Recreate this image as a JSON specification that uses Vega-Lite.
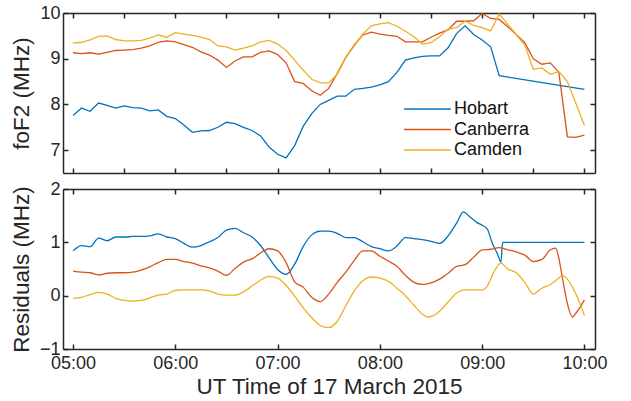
{
 "$schema": "https://vega.github.io/schema/vega-lite/v6.json",
 "background": "white",
 "padding": {"left": 10, "top": 4, "right": 5, "bottom": 2},
 "spacing": 6,
 "config": {
  "view": {"stroke": null},
  "font": "Liberation Sans",
  "axis": {"domain": true, "domainColor": "#262626", "domainWidth": 1.5, "grid": false, "tickSize": -5, "tickColor": "#262626", "tickWidth": 1.5, "labelFont": "Liberation Sans", "labelFontSize": 18, "labelColor": "#262626", "titleFont": "Liberation Sans", "titleFontSize": 22.5, "titleFontWeight": "normal", "titleColor": "#262626"},
  "axisX": {"labelPadding": 10, "titlePadding": 3},
  "axisY": {"labelPadding": 8, "titlePadding": 6},
  "legend": {"labelFont": "Liberation Sans", "labelFontSize": 18, "labelColor": "#111111", "symbolType": "M-2.6,0H2.6", "symbolSize": 324, "symbolStrokeWidth": 1.5, "rowPadding": 1.5, "labelOffset": 16.6, "padding": 0}
 },
 "resolve": {"scale": {"color": "independent"}},
 "vconcat": [
  {
   "width": 532, "height": 160,
   "data": {"values": [
   {"time":"2015-03-17T05:00Z","station":"Hobart","foF2":7.76},{"time":"2015-03-17T05:05Z","station":"Hobart","foF2":7.92},{"time":"2015-03-17T05:10Z","station":"Hobart","foF2":7.85},{"time":"2015-03-17T05:15Z","station":"Hobart","foF2":8.03},{"time":"2015-03-17T05:20Z","station":"Hobart","foF2":7.98},{"time":"2015-03-17T05:25Z","station":"Hobart","foF2":7.92},{"time":"2015-03-17T05:30Z","station":"Hobart","foF2":7.97},{"time":"2015-03-17T05:35Z","station":"Hobart","foF2":7.93},{"time":"2015-03-17T05:40Z","station":"Hobart","foF2":7.92},{"time":"2015-03-17T05:45Z","station":"Hobart","foF2":7.86},{"time":"2015-03-17T05:50Z","station":"Hobart","foF2":7.88},{"time":"2015-03-17T05:55Z","station":"Hobart","foF2":7.74},
   {"time":"2015-03-17T06:00Z","station":"Hobart","foF2":7.69},{"time":"2015-03-17T06:05Z","station":"Hobart","foF2":7.55},{"time":"2015-03-17T06:10Z","station":"Hobart","foF2":7.39},{"time":"2015-03-17T06:15Z","station":"Hobart","foF2":7.42},{"time":"2015-03-17T06:20Z","station":"Hobart","foF2":7.43},{"time":"2015-03-17T06:25Z","station":"Hobart","foF2":7.50},{"time":"2015-03-17T06:30Z","station":"Hobart","foF2":7.61},{"time":"2015-03-17T06:35Z","station":"Hobart","foF2":7.58},{"time":"2015-03-17T06:40Z","station":"Hobart","foF2":7.50},{"time":"2015-03-17T06:45Z","station":"Hobart","foF2":7.43},{"time":"2015-03-17T06:50Z","station":"Hobart","foF2":7.31},{"time":"2015-03-17T06:55Z","station":"Hobart","foF2":7.07},
   {"time":"2015-03-17T07:00Z","station":"Hobart","foF2":6.91},{"time":"2015-03-17T07:05Z","station":"Hobart","foF2":6.83},{"time":"2015-03-17T07:10Z","station":"Hobart","foF2":7.10},{"time":"2015-03-17T07:15Z","station":"Hobart","foF2":7.52},{"time":"2015-03-17T07:20Z","station":"Hobart","foF2":7.80},{"time":"2015-03-17T07:25Z","station":"Hobart","foF2":8.00},{"time":"2015-03-17T07:30Z","station":"Hobart","foF2":8.09},{"time":"2015-03-17T07:35Z","station":"Hobart","foF2":8.18},{"time":"2015-03-17T07:40Z","station":"Hobart","foF2":8.18},{"time":"2015-03-17T07:45Z","station":"Hobart","foF2":8.33},{"time":"2015-03-17T07:50Z","station":"Hobart","foF2":8.35},{"time":"2015-03-17T07:55Z","station":"Hobart","foF2":8.38},
   {"time":"2015-03-17T08:00Z","station":"Hobart","foF2":8.43},{"time":"2015-03-17T08:05Z","station":"Hobart","foF2":8.50},{"time":"2015-03-17T08:10Z","station":"Hobart","foF2":8.70},{"time":"2015-03-17T08:15Z","station":"Hobart","foF2":8.97},{"time":"2015-03-17T08:20Z","station":"Hobart","foF2":9.02},{"time":"2015-03-17T08:25Z","station":"Hobart","foF2":9.05},{"time":"2015-03-17T08:30Z","station":"Hobart","foF2":9.06},{"time":"2015-03-17T08:35Z","station":"Hobart","foF2":9.06},{"time":"2015-03-17T08:40Z","station":"Hobart","foF2":9.24},{"time":"2015-03-17T08:45Z","station":"Hobart","foF2":9.55},{"time":"2015-03-17T08:50Z","station":"Hobart","foF2":9.72},{"time":"2015-03-17T08:55Z","station":"Hobart","foF2":9.53},
   {"time":"2015-03-17T09:00Z","station":"Hobart","foF2":9.41},{"time":"2015-03-17T09:05Z","station":"Hobart","foF2":9.26},{"time":"2015-03-17T09:10Z","station":"Hobart","foF2":8.63},{"time":"2015-03-17T10:00Z","station":"Hobart","foF2":8.33},
   {"time":"2015-03-17T05:00Z","station":"Canberra","foF2":9.13},{"time":"2015-03-17T05:05Z","station":"Canberra","foF2":9.11},{"time":"2015-03-17T05:10Z","station":"Canberra","foF2":9.13},{"time":"2015-03-17T05:15Z","station":"Canberra","foF2":9.10},{"time":"2015-03-17T05:20Z","station":"Canberra","foF2":9.14},{"time":"2015-03-17T05:25Z","station":"Canberra","foF2":9.18},{"time":"2015-03-17T05:30Z","station":"Canberra","foF2":9.19},{"time":"2015-03-17T05:35Z","station":"Canberra","foF2":9.20},{"time":"2015-03-17T05:40Z","station":"Canberra","foF2":9.23},{"time":"2015-03-17T05:45Z","station":"Canberra","foF2":9.28},{"time":"2015-03-17T05:50Z","station":"Canberra","foF2":9.36},{"time":"2015-03-17T05:55Z","station":"Canberra","foF2":9.39},
   {"time":"2015-03-17T06:00Z","station":"Canberra","foF2":9.37},{"time":"2015-03-17T06:05Z","station":"Canberra","foF2":9.31},{"time":"2015-03-17T06:10Z","station":"Canberra","foF2":9.25},{"time":"2015-03-17T06:15Z","station":"Canberra","foF2":9.15},{"time":"2015-03-17T06:20Z","station":"Canberra","foF2":9.08},{"time":"2015-03-17T06:25Z","station":"Canberra","foF2":8.97},{"time":"2015-03-17T06:30Z","station":"Canberra","foF2":8.81},{"time":"2015-03-17T06:35Z","station":"Canberra","foF2":8.95},{"time":"2015-03-17T06:40Z","station":"Canberra","foF2":9.04},{"time":"2015-03-17T06:45Z","station":"Canberra","foF2":9.04},{"time":"2015-03-17T06:50Z","station":"Canberra","foF2":9.14},{"time":"2015-03-17T06:55Z","station":"Canberra","foF2":9.17},
   {"time":"2015-03-17T07:00Z","station":"Canberra","foF2":9.09},{"time":"2015-03-17T07:05Z","station":"Canberra","foF2":8.91},{"time":"2015-03-17T07:10Z","station":"Canberra","foF2":8.50},{"time":"2015-03-17T07:15Z","station":"Canberra","foF2":8.46},{"time":"2015-03-17T07:20Z","station":"Canberra","foF2":8.30},{"time":"2015-03-17T07:25Z","station":"Canberra","foF2":8.20},{"time":"2015-03-17T07:30Z","station":"Canberra","foF2":8.35},{"time":"2015-03-17T07:35Z","station":"Canberra","foF2":8.68},{"time":"2015-03-17T07:40Z","station":"Canberra","foF2":9.03},{"time":"2015-03-17T07:45Z","station":"Canberra","foF2":9.30},{"time":"2015-03-17T07:50Z","station":"Canberra","foF2":9.52},{"time":"2015-03-17T07:55Z","station":"Canberra","foF2":9.58},
   {"time":"2015-03-17T08:00Z","station":"Canberra","foF2":9.54},{"time":"2015-03-17T08:05Z","station":"Canberra","foF2":9.51},{"time":"2015-03-17T08:10Z","station":"Canberra","foF2":9.49},{"time":"2015-03-17T08:15Z","station":"Canberra","foF2":9.37},{"time":"2015-03-17T08:20Z","station":"Canberra","foF2":9.37},{"time":"2015-03-17T08:25Z","station":"Canberra","foF2":9.37},{"time":"2015-03-17T08:30Z","station":"Canberra","foF2":9.47},{"time":"2015-03-17T08:35Z","station":"Canberra","foF2":9.56},{"time":"2015-03-17T08:40Z","station":"Canberra","foF2":9.63},{"time":"2015-03-17T08:45Z","station":"Canberra","foF2":9.82},{"time":"2015-03-17T08:50Z","station":"Canberra","foF2":9.82},{"time":"2015-03-17T08:55Z","station":"Canberra","foF2":9.83},
   {"time":"2015-03-17T09:00Z","station":"Canberra","foF2":9.99},{"time":"2015-03-17T09:05Z","station":"Canberra","foF2":9.88},{"time":"2015-03-17T09:10Z","station":"Canberra","foF2":9.86},{"time":"2015-03-17T09:15Z","station":"Canberra","foF2":9.70},{"time":"2015-03-17T09:20Z","station":"Canberra","foF2":9.53},{"time":"2015-03-17T09:25Z","station":"Canberra","foF2":9.35},{"time":"2015-03-17T09:30Z","station":"Canberra","foF2":9.00},{"time":"2015-03-17T09:35Z","station":"Canberra","foF2":8.88},{"time":"2015-03-17T09:40Z","station":"Canberra","foF2":8.91},{"time":"2015-03-17T09:45Z","station":"Canberra","foF2":8.70},{"time":"2015-03-17T09:50Z","station":"Canberra","foF2":7.29},{"time":"2015-03-17T09:55Z","station":"Canberra","foF2":7.28},{"time":"2015-03-17T10:00Z","station":"Canberra","foF2":7.33},
   {"time":"2015-03-17T05:00Z","station":"Camden","foF2":9.34},{"time":"2015-03-17T05:05Z","station":"Camden","foF2":9.36},{"time":"2015-03-17T05:10Z","station":"Camden","foF2":9.41},{"time":"2015-03-17T05:15Z","station":"Camden","foF2":9.49},{"time":"2015-03-17T05:20Z","station":"Camden","foF2":9.50},{"time":"2015-03-17T05:25Z","station":"Camden","foF2":9.42},{"time":"2015-03-17T05:30Z","station":"Camden","foF2":9.39},{"time":"2015-03-17T05:35Z","station":"Camden","foF2":9.39},{"time":"2015-03-17T05:40Z","station":"Camden","foF2":9.40},{"time":"2015-03-17T05:45Z","station":"Camden","foF2":9.45},{"time":"2015-03-17T05:50Z","station":"Camden","foF2":9.52},{"time":"2015-03-17T05:55Z","station":"Camden","foF2":9.47},
   {"time":"2015-03-17T06:00Z","station":"Camden","foF2":9.57},{"time":"2015-03-17T06:05Z","station":"Camden","foF2":9.54},{"time":"2015-03-17T06:10Z","station":"Camden","foF2":9.51},{"time":"2015-03-17T06:15Z","station":"Camden","foF2":9.47},{"time":"2015-03-17T06:20Z","station":"Camden","foF2":9.42},{"time":"2015-03-17T06:25Z","station":"Camden","foF2":9.28},{"time":"2015-03-17T06:30Z","station":"Camden","foF2":9.26},{"time":"2015-03-17T06:35Z","station":"Camden","foF2":9.19},{"time":"2015-03-17T06:40Z","station":"Camden","foF2":9.23},{"time":"2015-03-17T06:45Z","station":"Camden","foF2":9.28},{"time":"2015-03-17T06:50Z","station":"Camden","foF2":9.37},{"time":"2015-03-17T06:55Z","station":"Camden","foF2":9.40},
   {"time":"2015-03-17T07:00Z","station":"Camden","foF2":9.32},{"time":"2015-03-17T07:05Z","station":"Camden","foF2":9.18},{"time":"2015-03-17T07:10Z","station":"Camden","foF2":8.97},{"time":"2015-03-17T07:15Z","station":"Camden","foF2":8.75},{"time":"2015-03-17T07:20Z","station":"Camden","foF2":8.55},{"time":"2015-03-17T07:25Z","station":"Camden","foF2":8.47},{"time":"2015-03-17T07:30Z","station":"Camden","foF2":8.47},{"time":"2015-03-17T07:35Z","station":"Camden","foF2":8.66},{"time":"2015-03-17T07:40Z","station":"Camden","foF2":9.03},{"time":"2015-03-17T07:45Z","station":"Camden","foF2":9.28},{"time":"2015-03-17T07:50Z","station":"Camden","foF2":9.54},{"time":"2015-03-17T07:55Z","station":"Camden","foF2":9.72},
   {"time":"2015-03-17T08:00Z","station":"Camden","foF2":9.76},{"time":"2015-03-17T08:05Z","station":"Camden","foF2":9.79},{"time":"2015-03-17T08:10Z","station":"Camden","foF2":9.71},{"time":"2015-03-17T08:15Z","station":"Camden","foF2":9.60},{"time":"2015-03-17T08:20Z","station":"Camden","foF2":9.48},{"time":"2015-03-17T08:25Z","station":"Camden","foF2":9.32},{"time":"2015-03-17T08:30Z","station":"Camden","foF2":9.35},{"time":"2015-03-17T08:35Z","station":"Camden","foF2":9.48},{"time":"2015-03-17T08:40Z","station":"Camden","foF2":9.65},{"time":"2015-03-17T08:45Z","station":"Camden","foF2":9.68},{"time":"2015-03-17T08:50Z","station":"Camden","foF2":9.82},{"time":"2015-03-17T08:55Z","station":"Camden","foF2":9.73},
   {"time":"2015-03-17T09:00Z","station":"Camden","foF2":9.68},{"time":"2015-03-17T09:05Z","station":"Camden","foF2":9.61},{"time":"2015-03-17T09:10Z","station":"Camden","foF2":9.98},{"time":"2015-03-17T09:15Z","station":"Camden","foF2":9.75},{"time":"2015-03-17T09:20Z","station":"Camden","foF2":9.53},{"time":"2015-03-17T09:25Z","station":"Camden","foF2":9.30},{"time":"2015-03-17T09:30Z","station":"Camden","foF2":8.77},{"time":"2015-03-17T09:35Z","station":"Camden","foF2":8.80},{"time":"2015-03-17T09:40Z","station":"Camden","foF2":8.66},{"time":"2015-03-17T09:45Z","station":"Camden","foF2":8.72},{"time":"2015-03-17T09:50Z","station":"Camden","foF2":8.50},{"time":"2015-03-17T09:55Z","station":"Camden","foF2":8.02},{"time":"2015-03-17T10:00Z","station":"Camden","foF2":7.54}
   ]},
   "layer": [
    {
     "mark": {"type": "line", "strokeWidth": 1.3},
     "encoding": {
      "x": {"field": "time", "type": "temporal", "scale": {"type": "utc", "nice": false, "domain": [1426568046000, 1426586772000]}, "axis": {"orient": "bottom", "labels": false, "title": null, "tickCount": 11}},
      "y": {"field": "foF2", "type": "quantitative", "scale": {"domain": [6.5, 10], "nice": false, "zero": false}, "axis": {"orient": "left", "values": [7, 8, 9, 10], "title": "foF2 (MHz)"}},
      "color": {"field": "station", "type": "nominal", "scale": {"domain": ["Hobart", "Canberra", "Camden"], "range": ["#0072BD", "#D95319", "#EDB120"]}, "legend": {"title": null, "orient": "none", "legendX": 354.4, "legendY": 86}}
     }
    },
    {
     "mark": {"type": "point", "opacity": 0},
     "encoding": {
      "x": {"field": "time", "type": "temporal", "axis": {"orient": "top", "labels": false, "title": null, "tickCount": 11}},
      "y": {"field": "foF2", "type": "quantitative", "axis": {"orient": "right", "labels": false, "title": null, "values": [7, 8, 9, 10]}}
     }
    }
   ],
   "resolve": {"axis": {"x": "independent", "y": "independent"}}
  },
  {
   "width": 532, "height": 160,
   "data": {"values": [
   {"time":"2015-03-17T05:00Z","station":"Hobart","residual":0.84},{"time":"2015-03-17T05:05Z","station":"Hobart","residual":0.94},{"time":"2015-03-17T05:10Z","station":"Hobart","residual":0.92},{"time":"2015-03-17T05:15Z","station":"Hobart","residual":1.08},{"time":"2015-03-17T05:20Z","station":"Hobart","residual":1.03},{"time":"2015-03-17T05:25Z","station":"Hobart","residual":1.10},{"time":"2015-03-17T05:30Z","station":"Hobart","residual":1.10},{"time":"2015-03-17T05:35Z","station":"Hobart","residual":1.11},{"time":"2015-03-17T05:40Z","station":"Hobart","residual":1.11},{"time":"2015-03-17T05:45Z","station":"Hobart","residual":1.12},{"time":"2015-03-17T05:50Z","station":"Hobart","residual":1.16},{"time":"2015-03-17T05:55Z","station":"Hobart","residual":1.10},
   {"time":"2015-03-17T06:00Z","station":"Hobart","residual":1.07},{"time":"2015-03-17T06:05Z","station":"Hobart","residual":0.98},{"time":"2015-03-17T06:10Z","station":"Hobart","residual":0.91},{"time":"2015-03-17T06:15Z","station":"Hobart","residual":0.94},{"time":"2015-03-17T06:20Z","station":"Hobart","residual":1.01},{"time":"2015-03-17T06:25Z","station":"Hobart","residual":1.09},{"time":"2015-03-17T06:30Z","station":"Hobart","residual":1.23},{"time":"2015-03-17T06:35Z","station":"Hobart","residual":1.26},{"time":"2015-03-17T06:40Z","station":"Hobart","residual":1.18},{"time":"2015-03-17T06:45Z","station":"Hobart","residual":1.10},{"time":"2015-03-17T06:50Z","station":"Hobart","residual":0.94},{"time":"2015-03-17T06:55Z","station":"Hobart","residual":0.71},
   {"time":"2015-03-17T07:00Z","station":"Hobart","residual":0.49},{"time":"2015-03-17T07:05Z","station":"Hobart","residual":0.40},{"time":"2015-03-17T07:10Z","station":"Hobart","residual":0.59},{"time":"2015-03-17T07:15Z","station":"Hobart","residual":0.92},{"time":"2015-03-17T07:20Z","station":"Hobart","residual":1.14},{"time":"2015-03-17T07:25Z","station":"Hobart","residual":1.21},{"time":"2015-03-17T07:30Z","station":"Hobart","residual":1.21},{"time":"2015-03-17T07:35Z","station":"Hobart","residual":1.17},{"time":"2015-03-17T07:40Z","station":"Hobart","residual":1.09},{"time":"2015-03-17T07:45Z","station":"Hobart","residual":1.09},{"time":"2015-03-17T07:50Z","station":"Hobart","residual":1.01},{"time":"2015-03-17T07:55Z","station":"Hobart","residual":0.92},
   {"time":"2015-03-17T08:00Z","station":"Hobart","residual":0.88},{"time":"2015-03-17T08:05Z","station":"Hobart","residual":0.84},{"time":"2015-03-17T08:10Z","station":"Hobart","residual":0.93},{"time":"2015-03-17T08:15Z","station":"Hobart","residual":1.09},{"time":"2015-03-17T08:20Z","station":"Hobart","residual":1.07},{"time":"2015-03-17T08:25Z","station":"Hobart","residual":1.05},{"time":"2015-03-17T08:30Z","station":"Hobart","residual":1.02},{"time":"2015-03-17T08:35Z","station":"Hobart","residual":0.98},{"time":"2015-03-17T08:40Z","station":"Hobart","residual":1.12},{"time":"2015-03-17T08:45Z","station":"Hobart","residual":1.36},{"time":"2015-03-17T08:49Z","station":"Hobart","residual":1.57},{"time":"2015-03-17T08:53Z","station":"Hobart","residual":1.47},{"time":"2015-03-17T08:57Z","station":"Hobart","residual":1.37},
   {"time":"2015-03-17T09:00Z","station":"Hobart","residual":1.32},{"time":"2015-03-17T09:03Z","station":"Hobart","residual":1.25},{"time":"2015-03-17T09:06Z","station":"Hobart","residual":0.98},{"time":"2015-03-17T09:09Z","station":"Hobart","residual":0.78},{"time":"2015-03-17T09:11Z","station":"Hobart","residual":0.63},{"time":"2015-03-17T09:12Z","station":"Hobart","residual":1.0},{"time":"2015-03-17T10:00Z","station":"Hobart","residual":1.0},
   {"time":"2015-03-17T05:00Z","station":"Canberra","residual":0.46},{"time":"2015-03-17T05:05Z","station":"Canberra","residual":0.44},{"time":"2015-03-17T05:10Z","station":"Canberra","residual":0.43},{"time":"2015-03-17T05:15Z","station":"Canberra","residual":0.39},{"time":"2015-03-17T05:20Z","station":"Canberra","residual":0.42},{"time":"2015-03-17T05:25Z","station":"Canberra","residual":0.43},{"time":"2015-03-17T05:30Z","station":"Canberra","residual":0.43},{"time":"2015-03-17T05:35Z","station":"Canberra","residual":0.44},{"time":"2015-03-17T05:40Z","station":"Canberra","residual":0.48},{"time":"2015-03-17T05:45Z","station":"Canberra","residual":0.54},{"time":"2015-03-17T05:50Z","station":"Canberra","residual":0.62},{"time":"2015-03-17T05:55Z","station":"Canberra","residual":0.68},
   {"time":"2015-03-17T06:00Z","station":"Canberra","residual":0.68},{"time":"2015-03-17T06:05Z","station":"Canberra","residual":0.64},{"time":"2015-03-17T06:10Z","station":"Canberra","residual":0.61},{"time":"2015-03-17T06:15Z","station":"Canberra","residual":0.56},{"time":"2015-03-17T06:20Z","station":"Canberra","residual":0.52},{"time":"2015-03-17T06:25Z","station":"Canberra","residual":0.46},{"time":"2015-03-17T06:30Z","station":"Canberra","residual":0.38},{"time":"2015-03-17T06:35Z","station":"Canberra","residual":0.51},{"time":"2015-03-17T06:40Z","station":"Canberra","residual":0.63},{"time":"2015-03-17T06:45Z","station":"Canberra","residual":0.69},{"time":"2015-03-17T06:50Z","station":"Canberra","residual":0.80},{"time":"2015-03-17T06:55Z","station":"Canberra","residual":0.88},
   {"time":"2015-03-17T07:00Z","station":"Canberra","residual":0.84},{"time":"2015-03-17T07:05Z","station":"Canberra","residual":0.62},{"time":"2015-03-17T07:10Z","station":"Canberra","residual":0.26},{"time":"2015-03-17T07:15Z","station":"Canberra","residual":0.16},{"time":"2015-03-17T07:20Z","station":"Canberra","residual":-0.03},{"time":"2015-03-17T07:25Z","station":"Canberra","residual":-0.11},{"time":"2015-03-17T07:30Z","station":"Canberra","residual":0.03},{"time":"2015-03-17T07:35Z","station":"Canberra","residual":0.25},{"time":"2015-03-17T07:40Z","station":"Canberra","residual":0.44},{"time":"2015-03-17T07:45Z","station":"Canberra","residual":0.66},{"time":"2015-03-17T07:50Z","station":"Canberra","residual":0.84},{"time":"2015-03-17T07:55Z","station":"Canberra","residual":0.84},
   {"time":"2015-03-17T08:00Z","station":"Canberra","residual":0.74},{"time":"2015-03-17T08:05Z","station":"Canberra","residual":0.65},{"time":"2015-03-17T08:10Z","station":"Canberra","residual":0.55},{"time":"2015-03-17T08:15Z","station":"Canberra","residual":0.38},{"time":"2015-03-17T08:20Z","station":"Canberra","residual":0.25},{"time":"2015-03-17T08:25Z","station":"Canberra","residual":0.21},{"time":"2015-03-17T08:30Z","station":"Canberra","residual":0.24},{"time":"2015-03-17T08:35Z","station":"Canberra","residual":0.31},{"time":"2015-03-17T08:40Z","station":"Canberra","residual":0.42},{"time":"2015-03-17T08:45Z","station":"Canberra","residual":0.55},{"time":"2015-03-17T08:50Z","station":"Canberra","residual":0.58},{"time":"2015-03-17T08:55Z","station":"Canberra","residual":0.72},
   {"time":"2015-03-17T09:00Z","station":"Canberra","residual":0.86},{"time":"2015-03-17T09:05Z","station":"Canberra","residual":0.87},{"time":"2015-03-17T09:10Z","station":"Canberra","residual":0.90},{"time":"2015-03-17T09:15Z","station":"Canberra","residual":0.86},{"time":"2015-03-17T09:20Z","station":"Canberra","residual":0.82},{"time":"2015-03-17T09:25Z","station":"Canberra","residual":0.76},{"time":"2015-03-17T09:30Z","station":"Canberra","residual":0.64},{"time":"2015-03-17T09:35Z","station":"Canberra","residual":0.68},{"time":"2015-03-17T09:40Z","station":"Canberra","residual":0.86},{"time":"2015-03-17T09:43Z","station":"Canberra","residual":0.89},{"time":"2015-03-17T09:45Z","station":"Canberra","residual":0.70},{"time":"2015-03-17T09:47Z","station":"Canberra","residual":0.35},{"time":"2015-03-17T09:50Z","station":"Canberra","residual":-0.15},{"time":"2015-03-17T09:53Z","station":"Canberra","residual":-0.40},{"time":"2015-03-17T09:55Z","station":"Canberra","residual":-0.33},{"time":"2015-03-17T10:00Z","station":"Canberra","residual":-0.08},
   {"time":"2015-03-17T05:00Z","station":"Camden","residual":-0.05},{"time":"2015-03-17T05:05Z","station":"Camden","residual":-0.03},{"time":"2015-03-17T05:10Z","station":"Camden","residual":0.02},{"time":"2015-03-17T05:15Z","station":"Camden","residual":0.06},{"time":"2015-03-17T05:20Z","station":"Camden","residual":0.03},{"time":"2015-03-17T05:25Z","station":"Camden","residual":-0.05},{"time":"2015-03-17T05:30Z","station":"Camden","residual":-0.09},{"time":"2015-03-17T05:35Z","station":"Camden","residual":-0.10},{"time":"2015-03-17T05:40Z","station":"Camden","residual":-0.09},{"time":"2015-03-17T05:45Z","station":"Camden","residual":-0.04},{"time":"2015-03-17T05:50Z","station":"Camden","residual":0.01},{"time":"2015-03-17T05:55Z","station":"Camden","residual":0.03},
   {"time":"2015-03-17T06:00Z","station":"Camden","residual":0.10},{"time":"2015-03-17T06:05Z","station":"Camden","residual":0.11},{"time":"2015-03-17T06:10Z","station":"Camden","residual":0.11},{"time":"2015-03-17T06:15Z","station":"Camden","residual":0.11},{"time":"2015-03-17T06:20Z","station":"Camden","residual":0.09},{"time":"2015-03-17T06:25Z","station":"Camden","residual":0.03},{"time":"2015-03-17T06:30Z","station":"Camden","residual":0.01},{"time":"2015-03-17T06:35Z","station":"Camden","residual":0.01},{"time":"2015-03-17T06:40Z","station":"Camden","residual":0.07},{"time":"2015-03-17T06:45Z","station":"Camden","residual":0.18},{"time":"2015-03-17T06:50Z","station":"Camden","residual":0.29},{"time":"2015-03-17T06:55Z","station":"Camden","residual":0.36},
   {"time":"2015-03-17T07:00Z","station":"Camden","residual":0.33},{"time":"2015-03-17T07:05Z","station":"Camden","residual":0.19},{"time":"2015-03-17T07:10Z","station":"Camden","residual":-0.01},{"time":"2015-03-17T07:15Z","station":"Camden","residual":-0.23},{"time":"2015-03-17T07:20Z","station":"Camden","residual":-0.41},{"time":"2015-03-17T07:25Z","station":"Camden","residual":-0.56},{"time":"2015-03-17T07:30Z","station":"Camden","residual":-0.60},{"time":"2015-03-17T07:35Z","station":"Camden","residual":-0.48},{"time":"2015-03-17T07:40Z","station":"Camden","residual":-0.19},{"time":"2015-03-17T07:45Z","station":"Camden","residual":0.09},{"time":"2015-03-17T07:50Z","station":"Camden","residual":0.28},{"time":"2015-03-17T07:55Z","station":"Camden","residual":0.35},
   {"time":"2015-03-17T08:00Z","station":"Camden","residual":0.33},{"time":"2015-03-17T08:05Z","station":"Camden","residual":0.27},{"time":"2015-03-17T08:10Z","station":"Camden","residual":0.14},{"time":"2015-03-17T08:15Z","station":"Camden","residual":0.00},{"time":"2015-03-17T08:20Z","station":"Camden","residual":-0.18},{"time":"2015-03-17T08:25Z","station":"Camden","residual":-0.35},{"time":"2015-03-17T08:28Z","station":"Camden","residual":-0.40},{"time":"2015-03-17T08:30Z","station":"Camden","residual":-0.39},{"time":"2015-03-17T08:35Z","station":"Camden","residual":-0.29},{"time":"2015-03-17T08:40Z","station":"Camden","residual":-0.12},{"time":"2015-03-17T08:45Z","station":"Camden","residual":0.05},{"time":"2015-03-17T08:50Z","station":"Camden","residual":0.11},{"time":"2015-03-17T08:55Z","station":"Camden","residual":0.11},
   {"time":"2015-03-17T09:00Z","station":"Camden","residual":0.11},{"time":"2015-03-17T09:03Z","station":"Camden","residual":0.18},{"time":"2015-03-17T09:07Z","station":"Camden","residual":0.45},{"time":"2015-03-17T09:11Z","station":"Camden","residual":0.61},{"time":"2015-03-17T09:15Z","station":"Camden","residual":0.50},{"time":"2015-03-17T09:20Z","station":"Camden","residual":0.43},{"time":"2015-03-17T09:25Z","station":"Camden","residual":0.25},{"time":"2015-03-17T09:30Z","station":"Camden","residual":0.03},{"time":"2015-03-17T09:35Z","station":"Camden","residual":0.14},{"time":"2015-03-17T09:40Z","station":"Camden","residual":0.21},{"time":"2015-03-17T09:45Z","station":"Camden","residual":0.33},{"time":"2015-03-17T09:47Z","station":"Camden","residual":0.38},{"time":"2015-03-17T09:50Z","station":"Camden","residual":0.31},{"time":"2015-03-17T09:55Z","station":"Camden","residual":0.03},{"time":"2015-03-17T10:00Z","station":"Camden","residual":-0.37}
   ]},
   "layer": [
    {
     "mark": {"type": "line", "strokeWidth": 1.3, "interpolate": "monotone"},
     "encoding": {
      "x": {"field": "time", "type": "temporal", "scale": {"type": "utc", "nice": false, "domain": [1426568046000, 1426586772000]}, "axis": {"orient": "bottom", "format": "%H:%M", "title": "UT Time of 17 March 2015", "tickCount": 5}},
      "y": {"field": "residual", "type": "quantitative", "scale": {"domain": [-1, 2], "nice": false}, "axis": {"orient": "left", "values": [-1, 0, 1, 2], "title": "Residuals (MHz)"}},
      "color": {"field": "station", "type": "nominal", "scale": {"domain": ["Hobart", "Canberra", "Camden"], "range": ["#0072BD", "#D95319", "#EDB120"]}, "legend": null}
     }
    },
    {
     "mark": {"type": "point", "opacity": 0},
     "encoding": {
      "x": {"field": "time", "type": "temporal", "axis": {"orient": "top", "labels": false, "title": null, "tickCount": 5}},
      "y": {"field": "residual", "type": "quantitative", "axis": {"orient": "right", "labels": false, "title": null, "values": [-1, 0, 1, 2]}}
     }
    }
   ],
   "resolve": {"axis": {"x": "independent", "y": "independent"}}
  }
 ]
}
